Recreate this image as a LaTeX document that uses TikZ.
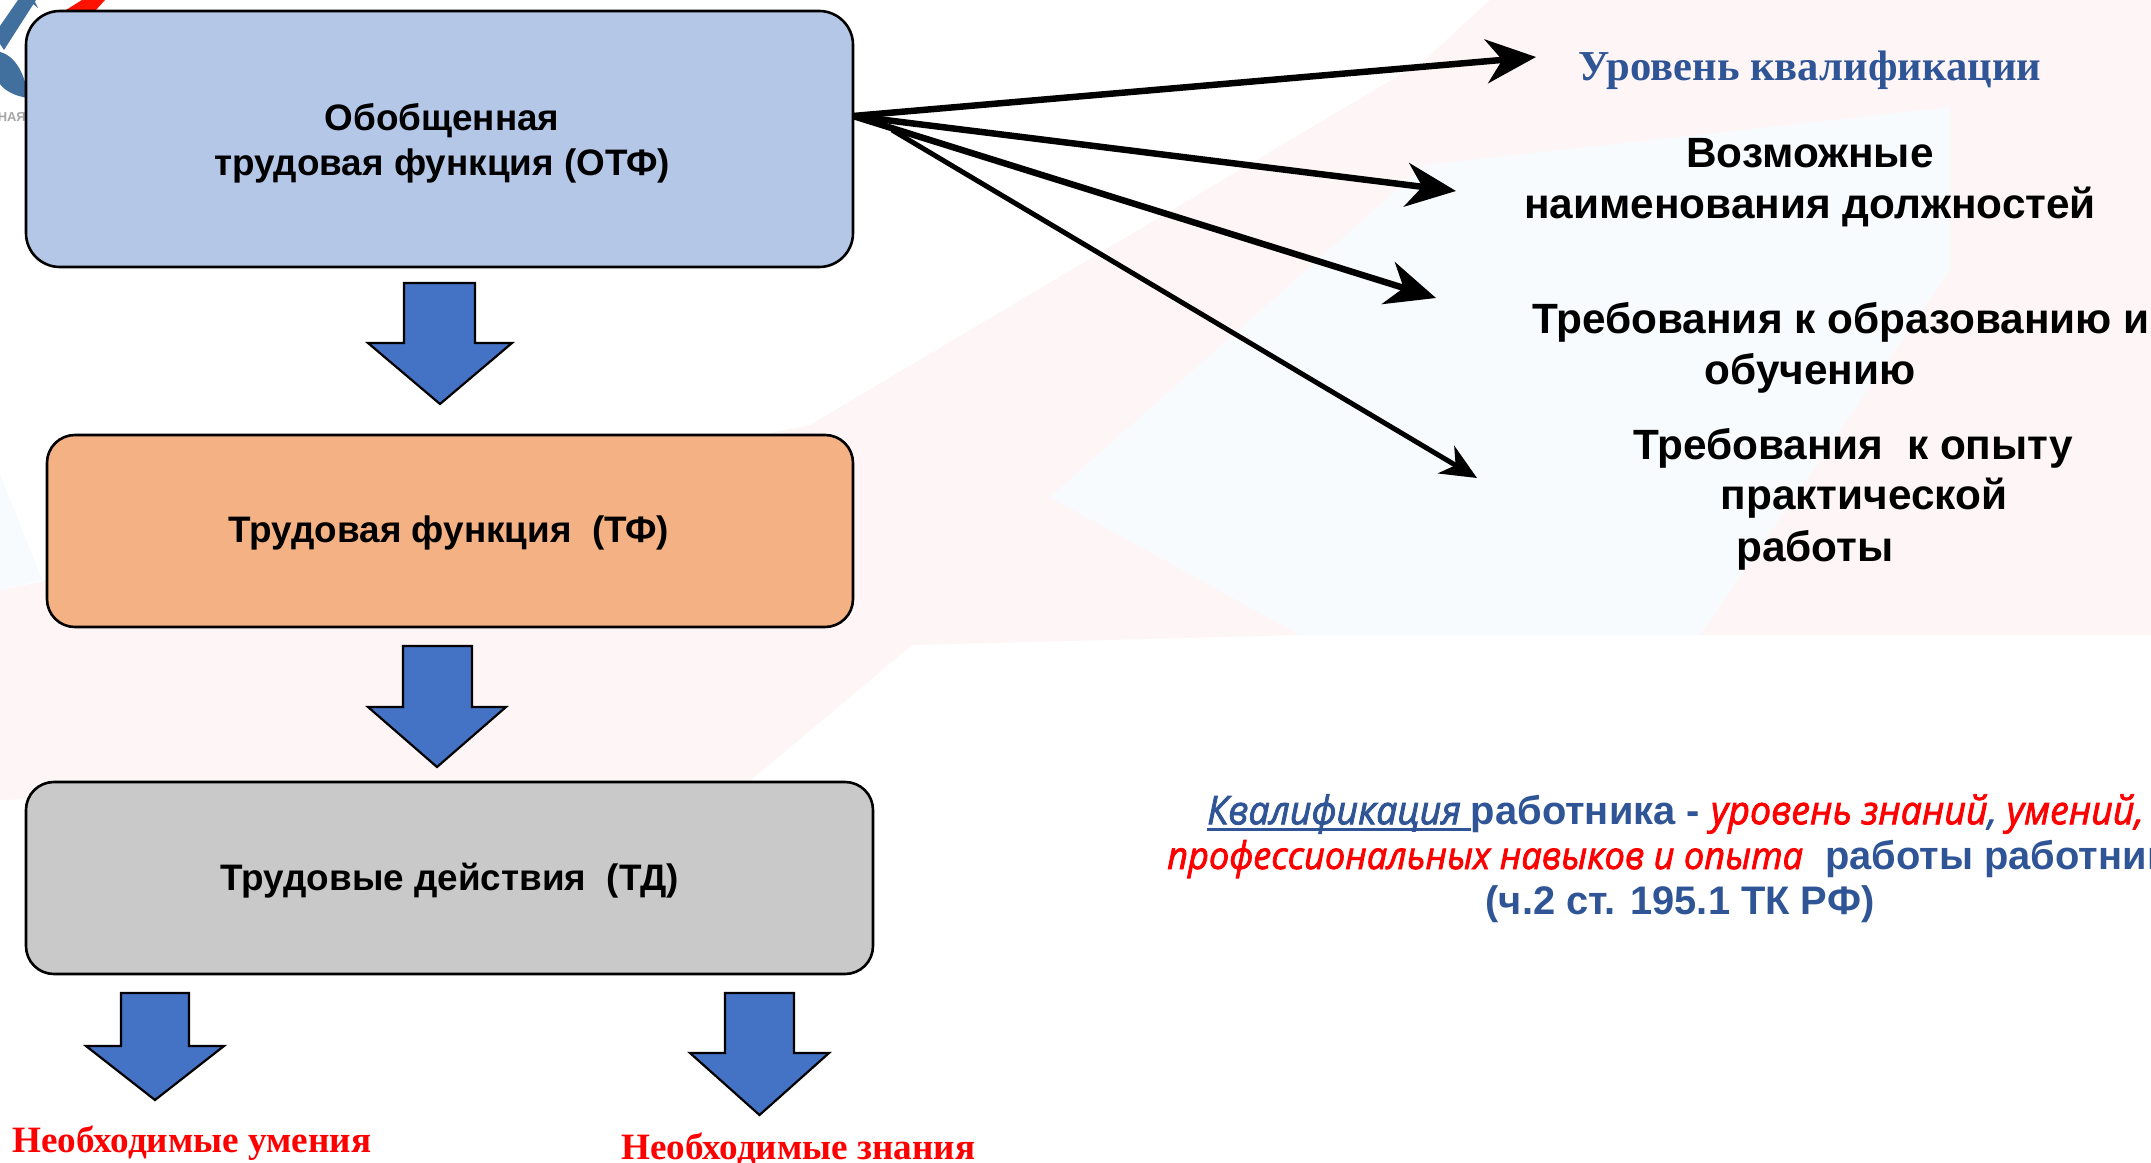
\documentclass[tikz,border=0pt]{standalone}
\usepackage{fontspec}
\setmainfont{Liberation Sans}
\newfontfamily\serifb{Liberation Serif}
\newfontfamily\qit[ItalicFeatures={FakeBold=2,FakeStretch=0.95}]{Open Sans}
\usetikzlibrary{arrows.meta}
\definecolor{otfc}{HTML}{B4C7E7}
\definecolor{tfc}{HTML}{F4B183}
\definecolor{tdc}{HTML}{C9C9C9}
\definecolor{arrc}{HTML}{4472C4}
\definecolor{navy}{HTML}{2F5597}
\definecolor{wmred}{HTML}{FEF6F6}
\definecolor{wmblue}{HTML}{F8FBFD}
\definecolor{logob}{HTML}{41709F}
\tikzset{
  x=0.0352778cm,y=-0.0352778cm,
  box/.style={draw=black,line width=2.6pt,rounded corners=28pt},
  boxtext/.style={font=\bfseries\fontsize{37}{45}\selectfont,align=center,text=black},
  blockarrow/.style={draw=black,line width=2.2pt,fill=arrc,line join=miter},
  ptr/.style={draw=black,line width=6.5pt,-{Stealth[length=50pt,width=44pt,inset=16pt]}},
  thinptr/.style={draw=black,line width=5pt,-{Stealth[length=36pt,width=32pt,inset=11pt]}},
  rtext/.style={font=\bfseries\fontsize{42.5}{51}\selectfont,align=center,text=black},
  redser/.style={font=\serifb\bfseries\fontsize{37.3}{40}\selectfont,text=red},
  quali/.style={font=\bfseries\fontsize{40}{44}\selectfont,text=navy,align=center,inner sep=0pt},
}
\newcommand{\blockarr}[8]{% name, left head, left shaft, right shaft, right head, top, shoulder, tip
  \path[blockarrow] (#3,#6) -- (#4,#6) -- (#4,#7) -- (#5,#7) -- ({(#2+#5)/2},#8) -- (#2,#7) -- (#3,#7) -- cycle;
  \coordinate (#1) at ({(#2+#5)/2},#8);
}
\newcommand{\qi}[1]{{\qit\mdseries\itshape\fontsize{39.7}{44}\selectfont #1}}
\newcommand{\qj}[1]{{\qit\mdseries\itshape\fontsize{38.2}{44}\selectfont #1}}
\newsavebox{\qbox}
\newcommand{\qunder}[1]{\sbox{\qbox}{#1}\rlap{\rule[-6.5pt]{\wd\qbox}{3pt}}\usebox{\qbox}}
\begin{document}
\begin{tikzpicture}
\useasboundingbox (0,0) rectangle (2151,1163);
\fill[white] (0,0) rectangle (2151,1163);
% faint watermark
\fill[wmred] (0,590) -- (810,425) -- (1425,60) -- (1490,0) -- (2151,0) -- (2151,635) -- (1700,635) -- (1300,635) -- (912,645) -- (750,781) -- (0,800) -- cycle;
\fill[wmblue] (1050,497) -- (1425,165) -- (1950,107) -- (1950,270) -- (1700,635) -- (1300,635) -- cycle;
\fill[wmblue] (0,474) -- (42,580) -- (0,590) -- cycle;
% logo fragments
\fill[logob] (18,0) -- (36,0) -- (4,50) -- (0,44) -- (0,26) -- cycle;
\fill[logob] (28,0) -- (34,0) -- (38,8) -- cycle;
\fill[logob] (0,52) .. controls (16,56) and (26,76) .. (28,98) .. controls (14,96) and (4,90) .. (0,84) -- cycle;
\fill[red!85!orange] (66,10) -- (82,0) -- (105,0) -- (96,10) -- cycle;
\node[font=\bfseries\fontsize{13}{14}\selectfont,text=gray!70,anchor=east,inner sep=0pt] (logotext) at (26,117) {НАЯ};
% boxes
\draw[box,rounded corners=34pt,fill=otfc] (26,11) rectangle (853,267);
\node[boxtext] (otf) at (442,143) {Обобщенная\\трудовая функция (ОТФ)};
\draw[box,fill=tfc] (47,435) rectangle (853,627);
\node[boxtext] (tf) at (449,533) {Трудовая функция\ \ (ТФ)};
\draw[box,fill=tdc] (26,782) rectangle (873,974);
\node[boxtext] (td) at (450,881) {Трудовые действия\ \ (ТД)};
% block arrows
\blockarr{a1}{368}{404}{475}{512}{283}{343}{404}
\blockarr{a2}{368}{403}{472}{506}{646}{707}{767}
\blockarr{a3}{86}{121}{189}{224}{993}{1046}{1100}
\blockarr{a4}{690}{725}{794}{829}{993}{1053}{1115}
% labels
\node[font=\serifb\bfseries\fontsize{42.8}{46}\selectfont,text=navy] (l1) at (1810,70) {Уровень квалификации};
\node[rtext] (l2) at (1810,183) {Возможные\\наименования должностей};
\node[rtext,anchor=west,inner sep=0pt] (l3a) at (1532,322) {Требования к образованию и};
\node[rtext] (l3b) at (1810,373) {обучению};
\node[rtext] (l4a) at (1853,448) {Требования\ \ к опыту};
\node[rtext] (l4b) at (1864,498) {практической};
\node[rtext] (l4c) at (1815,550) {работы};
\coordinate (src) at (853,116);
\coordinate (t1) at (1536,57);
\coordinate (t2) at (1456,191);
\coordinate (t3) at (1436,298);
\coordinate (t4) at (1477,478);
\coordinate (src4) at (892,130);
\draw[ptr] (src) -- (t1);
\draw[ptr] (src) -- (t2);
\draw[ptr] (src) -- (t3);
\draw[thinptr] (src4) -- (t4);
% definition
\node[quali,anchor=west] (q1) at (1207,814) {\qunder{\qi{Квалификация }}работника - {\color{red}\qi{уровень знаний}}\qi{, }{\color{red}\qi{умений,}}};
\node[quali,anchor=west] (q2) at (1167,859) {{\color{red}\qj{профессиональных навыков и опыта}}\ \ работы работник};
\node[quali] (q3) at (1680,904) {(ч.2 ст. 195.1 ТК РФ)};
\node[redser,anchor=west,inner sep=0pt] (n1) at (12,1143) {Необходимые умения};
\node[redser,anchor=west,inner sep=0pt] (n2) at (621,1149) {Необходимые знания};
\end{tikzpicture}
\end{document}
